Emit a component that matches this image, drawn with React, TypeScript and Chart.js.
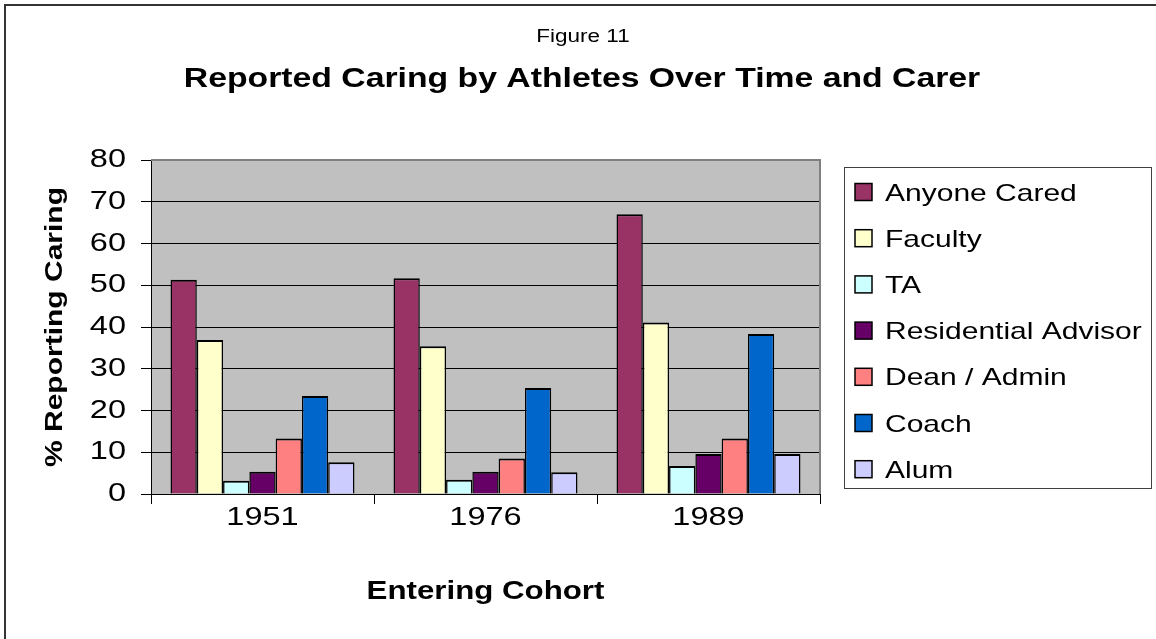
import { useEffect, useRef } from 'react';
import { Chart, registerables } from 'chart.js';

Chart.register(...registerables);

const categories = ['1951', '1976', '1989'];
const seriesNames = ['Anyone Cared', 'Faculty', 'TA', 'Residential Advisor', 'Dean / Admin', 'Coach', 'Alum'];
const anyoneCared = [51.3, 51.7, 67.0];
const faculty = [36.9, 35.4, 41.1];
const ta = [3.2, 3.4, 6.7];
const residentialAdvisor = [5.3, 5.3, 9.6];
const deanAdmin = [13.3, 8.5, 13.3];
const coach = [23.5, 25.4, 38.3];
const alum = [7.6, 5.2, 9.6];
const seriesColors = ['#993366', '#FFFFCC', '#CCFFFF', '#660066', '#FF8080', '#0066CC', '#CCCCFF'];
const yMin = 0;
const yMax = 80;
const yStep = 10;

const figureLabel = 'Figure 11';
const titleText = 'Reported Caring by Athletes Over Time and Carer';
const yTitle = '% Reporting Caring';
const xTitle = 'Entering Cohort';

const FONT = '"Liberation Sans", Arial, Helvetica, sans-serif';
const TEXT_STRETCH = 1.25;

const seriesValues = [anyoneCared, faculty, ta, residentialAdvisor, deanAdmin, coach, alum];

const decorPlugin = {
  id: 'decor',
  beforeDraw(chart: any) {
    const { ctx, chartArea } = chart;
    ctx.save();
    ctx.fillStyle = '#ffffff';
    ctx.fillRect(0, 0, chart.width, chart.height);
    ctx.fillStyle = '#C0C0C0';
    ctx.fillRect(chartArea.left, chartArea.top, chartArea.right - chartArea.left, chartArea.bottom - chartArea.top);
    ctx.restore();
  },
  afterDraw(chart: any) {
    const { ctx, chartArea } = chart;
    ctx.save();
    // plot area frame (top & right)
    ctx.strokeStyle = '#808080';
    ctx.lineWidth = 2;
    ctx.beginPath();
    ctx.moveTo(chartArea.left, chartArea.top);
    ctx.lineTo(chartArea.right, chartArea.top);
    ctx.lineTo(chartArea.right, chartArea.bottom);
    ctx.stroke();

    // outer chart border
    ctx.strokeStyle = '#333333';
    ctx.lineWidth = 2;
    ctx.strokeRect(5, 5, chart.width + 20, chart.height + 20);

    // titles
    ctx.fillStyle = '#000000';
    ctx.textAlign = 'center';
    ctx.textBaseline = 'alphabetic';
    ctx.font = `18px ${FONT}`;
    ctx.fillText(figureLabel, 583, 42);
    ctx.font = `bold 27px ${FONT}`;
    ctx.fillText(titleText, 582, 87);

    // legend
    const lx = 844, ly = 167, lw = 307, lh = 321;
    ctx.strokeStyle = '#404040';
    ctx.lineWidth = 1;
    ctx.strokeRect(lx + 0.5, ly + 0.5, lw, lh);
    ctx.font = `24px ${FONT}`;
    ctx.textAlign = 'left';
    chart.data.datasets.forEach((ds: any, i: number) => {
      const cy = 192 + i * 46.2;
      ctx.fillStyle = ds.backgroundColor;
      ctx.fillRect(855, cy - 8.5, 17, 17);
      ctx.strokeStyle = '#000000';
      ctx.lineWidth = 1.5;
      ctx.strokeRect(855, cy - 8.5, 17, 17);
      ctx.fillStyle = '#000000';
      ctx.fillText(ds.label, 885, cy + 8.5);
    });
    ctx.restore();
  },
};

export default function App() {
  const ref = useRef<HTMLCanvasElement>(null);
  useEffect(() => {
    const canvas = ref.current!;
    const ctx = canvas.getContext('2d') as any;
    if (!ctx.__stretched) {
      ctx.__stretched = true;
      const nativeFill = ctx.fillText.bind(ctx);
      const nativeMeasure = ctx.measureText.bind(ctx);
      ctx.fillText = (text: string, x: number, y: number, maxWidth?: number) => {
        ctx.save();
        ctx.translate(x, y);
        ctx.scale(TEXT_STRETCH, 1);
        if (maxWidth === undefined || maxWidth === null) nativeFill(text, 0, 0);
        else nativeFill(text, 0, 0, maxWidth / TEXT_STRETCH);
        ctx.restore();
      };
      ctx.measureText = (text: string) => {
        const m = nativeMeasure(text);
        return {
          width: m.width * TEXT_STRETCH,
          actualBoundingBoxAscent: m.actualBoundingBoxAscent,
          actualBoundingBoxDescent: m.actualBoundingBoxDescent,
          actualBoundingBoxLeft: m.actualBoundingBoxLeft * TEXT_STRETCH,
          actualBoundingBoxRight: m.actualBoundingBoxRight * TEXT_STRETCH,
          fontBoundingBoxAscent: m.fontBoundingBoxAscent,
          fontBoundingBoxDescent: m.fontBoundingBoxDescent,
        };
      };
    }

    const chart = new Chart(canvas, {
      type: 'bar',
      data: {
        labels: categories,
        datasets: seriesNames.map((name, i) => ({
          label: name,
          data: seriesValues[i],
          backgroundColor: seriesColors[i],
          borderColor: '#000000',
          borderWidth: { top: 2, left: 1.5, right: 1.5, bottom: 0 },
          categoryPercentage: 0.825,
          barPercentage: 1,
        })),
      },
      plugins: [decorPlugin],
      options: {
        responsive: false,
        animation: false,
        layout: { padding: { left: 0, top: 160, right: 336, bottom: 0 } },
        plugins: {
          legend: { display: false },
          tooltip: { enabled: false },
          title: { display: false },
        },
        scales: {
          x: {
            offset: true,
            grid: {
              offset: true,
              drawOnChartArea: false,
              drawTicks: true,
              tickLength: 10,
              color: '#000000',
              tickColor: '#000000',
            },
            border: { display: true, color: '#000000', width: 1 },
            ticks: { font: { family: FONT, size: 26 }, color: '#000000', padding: -2 },
            title: {
              display: true,
              text: xTitle,
              color: '#000000',
              font: { family: FONT, size: 25, weight: 'bold' },
              padding: { top: 0, bottom: 32 },
            },
            afterFit: (s: any) => { s.height = 145; },
          },
          y: {
            min: yMin,
            max: yMax,
            ticks: { stepSize: yStep, font: { family: FONT, size: 26 }, color: '#000000', padding: 15 },
            grid: {
              color: (c: any) => (c.tick && c.tick.value === yMax ? 'rgba(0,0,0,0)' : '#000000'),
              tickColor: '#000000',
              tickLength: 10,
              lineWidth: 1,
            },
            border: { display: true, color: '#000000', width: 1 },
            title: {
              display: true,
              text: yTitle,
              color: '#000000',
              font: { family: FONT, size: 24, weight: 'bold' },
              padding: { top: 41, bottom: 0 },
            },
            afterFit: (s: any) => { s.width = 151; },
          },
        },
      } as any,
    });
    return () => chart.destroy();
  }, []);

  return (
    <div style={{ position: 'fixed', left: 0, top: 0, width: 1156, height: 639, background: '#ffffff' }}>
      <canvas ref={ref} width={1156} height={639} style={{ display: 'block', width: 1156, height: 639 }} />
    </div>
  );
}
